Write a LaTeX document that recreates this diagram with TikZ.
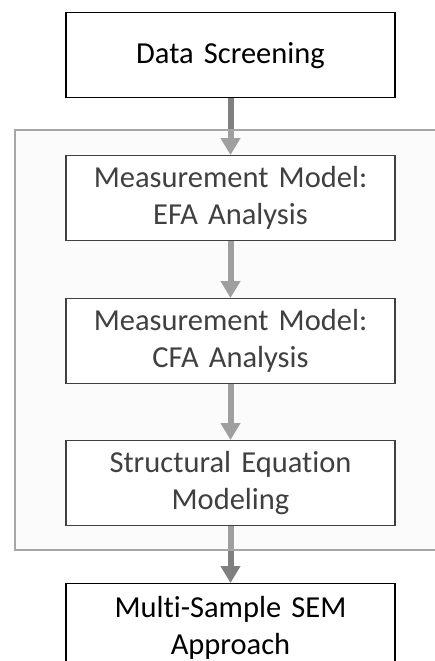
\documentclass[tikz,border=0pt]{standalone}
\usepackage{fontspec}
\setmainfont[Ligatures=NoCommon]{Carlito}
\usetikzlibrary{arrows.meta}
\definecolor{arrowgrey}{HTML}{7F7F7F}
\definecolor{panelfill}{HTML}{FAFAFA}
\definecolor{panelline}{HTML}{A6A6A6}
\tikzset{
  stepbox/.style={draw=black, line width=1.3pt, fill=white, minimum width=329pt, minimum height=85pt,
    text width=320pt, align=center, inner sep=0pt, anchor=north,
    font=\fontsize{30.5pt}{37pt}\selectfont},
  flow/.style={draw=arrowgrey, line width=6pt, -{Triangle[width=19pt,length=17pt]}, arrowgrey, shorten >=0pt}
}
\begin{document}
\begin{tikzpicture}[x=1pt,y=-1pt]
\useasboundingbox (0,0) rectangle (435,661);
\clip (0,0) rectangle (435,661);
\fill[panelfill] (14,129) rectangle (445,549);
\node[stepbox] (ds) at (230.5,12) {Data Screening};
\node[stepbox] (efa) at (230.5,155) {Measurement Model:\\EFA Analysis};
\node[stepbox] (cfa) at (230.5,298) {Measurement Model:\\CFA Analysis};
\node[stepbox] (sem) at (230.5,440) {Structural Equation\\Modeling};
\node[stepbox, minimum height=88pt] (msa) at (230.5,583) {Multi-Sample SEM\\Approach};
\draw[flow] (ds.south) -- (efa.north);
\draw[flow] (efa.south) -- (cfa.north);
\draw[flow] (cfa.south) -- (sem.north);
\draw[flow] (sem.south) -- (msa.north);
\node[draw=panelline, line width=1.5pt, fill=white, fill opacity=0.25, inner sep=0pt, minimum width=431pt, minimum height=420pt, anchor=north west] (panel) at (14,129) {};
\end{tikzpicture}
\end{document}
